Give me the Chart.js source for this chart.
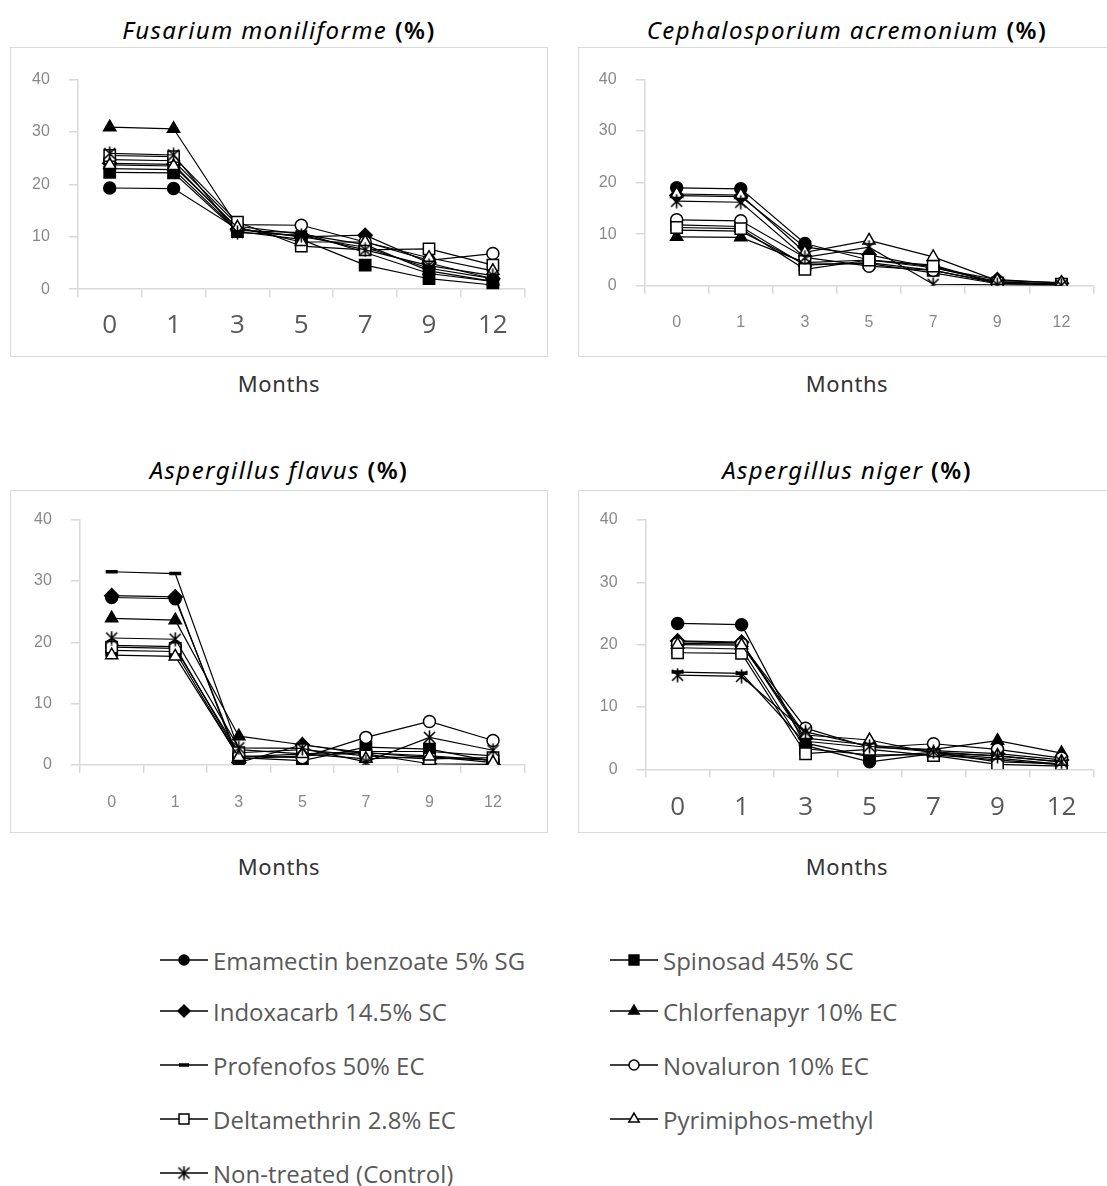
<!DOCTYPE html>
<html>
<head>
<meta charset="utf-8">
<script src="https://cdn.jsdelivr.net/npm/chart.js@4/dist/chart.umd.min.js"></script>
<style>
  body { margin: 0; background: #fff; width: 1107px; height: 1186px; position: relative; overflow: hidden; }
  .box { position: absolute; border: 1px solid #d9d9d9; box-sizing: border-box; }
  .cw { position: absolute; left: 0; top: 0; right: 0; bottom: 0; }
  .title { position: absolute; width: 560px; text-align: center; font: italic 24px 'Noto Sans', sans-serif; letter-spacing: 1.4px; color: #000; white-space: nowrap; line-height: 30px; }
  .title b { font-style: normal; font-weight: 600; }
  .xname { position: absolute; width: 300px; text-align: center; font: 22px 'Noto Sans', sans-serif; letter-spacing: 0.6px; color: #333; line-height: 30px; }
  .lg { position: absolute; height: 30px; display: flex; align-items: center; font: 24px 'Open Sans', sans-serif; color: #595959; white-space: nowrap; }
  .lg canvas { margin-right: 5px; }
</style>
</head>
<body>
<div id="page"></div>
<script>
/* ── Data ── */
const MONTHS = ['0', '1', '3', '5', '7', '9', '12'];
const Y_TICKS = [0, 10, 20, 30, 40];

const SERIES = [
  'Emamectin benzoate 5% SG',
  'Spinosad 45% SC',
  'Indoxacarb 14.5% SC',
  'Chlorfenapyr 10% EC',
  'Profenofos 50% EC',
  'Novaluron 10% EC',
  'Deltamethrin 2.8% EC',
  'Pyrimiphos-methyl',
  'Non-treated (Control)'
];

// rows follow SERIES order, columns follow MONTHS
const fusarium = [
  [19.3, 19.2, 11.5, 10.0,  8.0, 4.0, 2.0],
  [22.3, 22.2, 11.0,  9.5,  4.6, 2.0, 0.8],
  [24.0, 23.8, 11.5, 10.0, 10.3, 5.0, 2.0],
  [30.9, 30.6, 12.0, 10.5,  8.5, 3.5, 1.5],
  [23.0, 22.8, 11.2, 10.8,  7.0, 3.0, 1.5],
  [24.7, 24.5, 12.3, 12.2,  9.0, 5.5, 6.8],
  [25.5, 25.3, 12.8,  8.2,  7.5, 7.7, 4.6],
  [23.7, 23.5, 11.8,  9.0,  9.0, 6.0, 3.5],
  [25.9, 25.6, 10.8, 10.3,  7.5, 4.5, 2.6]
];

const cephalosporium = [
  [19.0, 18.8, 8.2, 5.0, 3.5, 0.8, 0.3],
  [11.8, 11.5, 4.0, 4.5, 3.0, 0.5, 0.2],
  [17.5, 17.3, 7.5, 6.0, 3.5, 1.2, 0.5],
  [ 9.5,  9.4, 4.5, 5.0, 4.0, 0.5, 0.2],
  [10.8, 10.6, 4.2, 4.3, 2.5, 0.4, 0.3],
  [12.8, 12.6, 5.5, 3.8, 3.0, 0.6, 0.4],
  [11.3, 11.1, 3.2, 5.0, 3.8, 0.5, 0.3],
  [17.8, 17.6, 6.5, 8.8, 5.6, 1.0, 0.6],
  [16.4, 16.2, 5.5, 7.5, 0.3, 0.2, 0.1]
];

const flavus = [
  [27.3, 27.1, 1.0, 1.5, 2.0, 1.2, 0.8],
  [18.7, 18.5, 1.2, 0.7, 2.9, 2.6, 0.6],
  [27.6, 27.4, 0.4, 3.3, 1.8, 0.2, 0.1],
  [23.9, 23.6, 4.7, 3.3, 2.0, 1.5, 0.8],
  [31.5, 31.2, 2.5, 1.8, 2.2, 2.2, 1.5],
  [19.5, 19.3, 1.5, 1.2, 4.5, 7.1, 4.0],
  [19.2, 19.0, 2.0, 2.5, 1.5, 1.0, 1.2],
  [17.9, 17.7, 1.3, 1.8, 1.0, 1.4, 0.4],
  [20.7, 20.5, 2.8, 2.7, 0.5, 4.5, 2.4]
];

const niger = [
  [23.4, 23.2, 3.8, 1.2, 2.5, 1.8, 0.8],
  [19.5, 19.3, 3.3, 2.3, 2.3, 1.5, 0.7],
  [20.6, 20.4, 5.0, 3.9, 3.0, 2.5, 1.5],
  [20.5, 20.3, 4.5, 3.5, 3.2, 4.6, 2.6],
  [15.6, 15.4, 4.2, 2.0, 2.7, 1.2, 0.9],
  [20.2, 20.1, 6.6, 3.5, 4.1, 3.2, 1.8],
  [18.7, 18.6, 2.5, 3.2, 2.2, 0.8, 0.5],
  [20.0, 19.9, 5.5, 4.7, 2.6, 2.2, 1.2],
  [15.1, 14.9, 6.0, 3.7, 2.8, 2.1, 1.2]
];

/* ── Markers ── */
function asterisk(size) {
  const c = document.createElement('canvas');
  c.width = c.height = size;
  const g = c.getContext('2d');
  g.strokeStyle = '#000';
  g.lineWidth = 1.6;
  g.beginPath();
  g.moveTo(2, 2); g.lineTo(size - 2, size - 2);
  g.moveTo(size - 2, 2); g.lineTo(2, size - 2);
  g.moveTo(size / 2, 0.5); g.lineTo(size / 2, size - 0.5);
  g.stroke();
  return c;
}

const MARKERS = [
  { style: 'circle',   fill: '#000', r: 6 },
  { style: 'rect',     fill: '#000', r: 8 },
  { style: 'rectRot',  fill: '#000', r: 7 },
  { style: 'triangle', fill: '#000', r: 7 },
  { style: 'line',     fill: '#000', r: 6, bw: 3.5 },
  { style: 'circle',   fill: '#fff', r: 6 },
  { style: 'rect',     fill: '#fff', r: 8 },
  { style: 'triangle', fill: '#fff', r: 7 },
  { style: asterisk(15), fill: '#fff', r: 7 }
];

/* ── Panels (layout) ── */
const PANELS = [
  { name: 'Fusarium moniliforme', data: fusarium, box: [10, 47, 538, 310], yW: 66.8, padTop: 31.5, padRight: 22.2, xH: 66.8, xPad: 13.2, big: true, titleY: 15, nameY: 368 },
  { name: 'Cephalosporium acremonium', data: cephalosporium, box: [578, 47, 530, 310], yW: 65.6, padTop: 31.5, padRight: 13.5, xH: 70.2, xPad: 18.8, big: false, titleY: 15, nameY: 368 },
  { name: 'Aspergillus flavus', data: flavus, box: [10, 490, 538, 343], yW: 68.9, padTop: 28.3, padRight: 22.2, xH: 67, xPad: 20, big: false, titleY: 455, nameY: 851 },
  { name: 'Aspergillus niger', data: niger, box: [578, 490, 530, 343], yW: 66.6, padTop: 29, padRight: 13.5, xH: 62.7, xPad: 15.1, big: true, titleY: 455, nameY: 851 }
];

Chart.defaults.font.family = "'Liberation Sans', Arial, sans-serif";
Chart.defaults.color = '#898989';

const page = document.getElementById('page');

function el(tag, cls, css, html) {
  const e = document.createElement(tag);
  if (cls) e.className = cls;
  Object.assign(e.style, css);
  if (html) e.innerHTML = html;
  page.appendChild(e);
  return e;
}

PANELS.forEach(p => {
  const [L, T, W, H] = p.box;
  const cx = L + 269;
  el('div', 'title', { left: (cx - 280) + 'px', top: p.titleY + 'px' }, '<i>' + p.name + '</i> <b>(%)</b>');
  el('div', 'xname', { left: (cx - 150) + 'px', top: p.nameY + 'px' }, 'Months');

  const box = el('div', 'box', { left: L + 'px', top: T + 'px', width: W + 'px', height: H + 'px' });
  const wrap = document.createElement('div');
  wrap.className = 'cw';
  box.appendChild(wrap);
  const canvas = document.createElement('canvas');
  wrap.appendChild(canvas);

  const datasets = p.data.map((vals, i) => ({
    label: SERIES[i],
    data: vals,
    borderColor: '#000',
    borderWidth: 1.2,
    pointStyle: MARKERS[i].style,
    pointRadius: MARKERS[i].r,
    pointBackgroundColor: MARKERS[i].fill,
    pointBorderColor: '#000',
    pointBorderWidth: MARKERS[i].bw || 1.5,
    tension: 0,
    order: -i,
  }));

  new Chart(canvas, {
    type: 'line',
    data: { labels: MONTHS, datasets },
    options: {
      responsive: true,
      maintainAspectRatio: false,
      animation: false,
      layout: { padding: { top: p.padTop, right: p.padRight, left: 0, bottom: 0 } },
      plugins: { legend: { display: false }, tooltip: { enabled: false } },
      scales: {
        x: {
          type: 'category',
          offset: true,
          grid: { offset: true, drawOnChartArea: false, drawTicks: true, tickLength: 8, color: '#d9d9d9', lineWidth: 1.5 },
          border: { color: '#d9d9d9', width: 1.5 },
          ticks: {
            padding: p.xPad,
            autoSkip: false,
            maxRotation: 0,
            color: p.big ? '#595959' : '#898989',
            font: p.big ? { family: "'Open Sans', sans-serif", size: 26 } : { size: 16 }
          },
          afterFit: s => { s.height = p.xH; }
        },
        y: {
          min: 0,
          max: 40,
          afterBuildTicks: s => { s.ticks = Y_TICKS.map(v => ({ value: v })); },
          grid: { drawOnChartArea: false, drawTicks: true, tickLength: 9, color: '#d9d9d9', lineWidth: 1.5 },
          border: { color: '#d9d9d9', width: 1.5 },
          ticks: { padding: 19, font: { size: 16 }, color: '#898989' },
          afterFit: s => { s.width = p.yW; }
        }
      }
    }
  });
});

/* ── Legend ── */
const LEGEND_ROWS = [962, 1013, 1067, 1121, 1175];
SERIES.forEach((name, i) => {
  const col = i % 2, row = Math.floor(i / 2);
  const item = el('div', 'lg', { left: (col ? 610 : 160) + 'px', top: (LEGEND_ROWS[row] - 17) + 'px' });
  const c = document.createElement('canvas');
  c.width = 48; c.height = 22;
  item.appendChild(c);
  item.appendChild(document.createTextNode(name));
  const g = c.getContext('2d');
  g.strokeStyle = '#000';
  g.lineWidth = 1.5;
  g.beginPath(); g.moveTo(0, 11); g.lineTo(48, 11); g.stroke();
  const m = MARKERS[i];
  g.fillStyle = m.fill;
  g.lineWidth = m.bw || 1.5;
  Chart.helpers.drawPoint(g, { pointStyle: m.style, radius: m.r - 1, borderWidth: m.bw || 1.5, rotation: 0 }, 24, 11);
});
</script>
</body>
</html>
